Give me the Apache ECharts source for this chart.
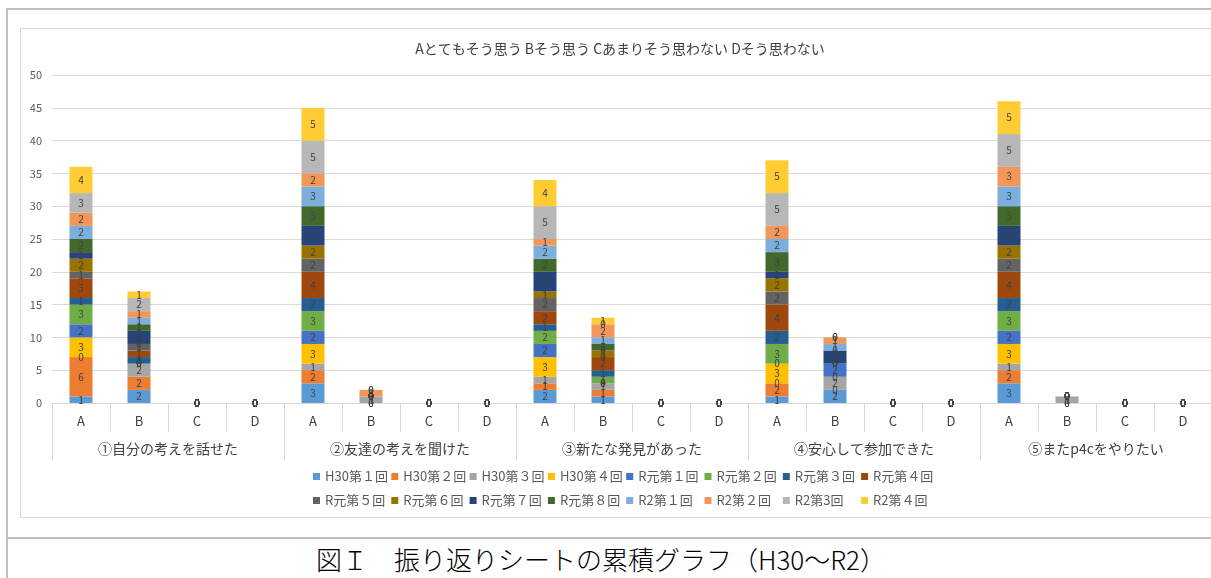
<!DOCTYPE html>
<html>
<head>
<meta charset="utf-8">
<script src="https://cdn.jsdelivr.net/npm/echarts@6/dist/echarts.min.js"></script>
<style>
html, body { margin: 0; padding: 0; width: 1211px; height: 578px; overflow: hidden; background: #fff; }
#frame { position: absolute; left: 6px; top: 8px; width: 1300px; height: 700px; border-left: 2px solid #bfbfbf; border-top: 2px solid #bfbfbf; }
#rule { position: absolute; left: 6px; top: 537px; width: 1300px; border-top: 2px solid #bfbfbf; }
#box { position: absolute; left: 20px; top: 28px; width: 1300px; height: 488px; border: 1px solid #d9d9d9; }
#chart { position: absolute; left: 20px; top: 28px; width: 1200px; height: 489px; }
#caption { position: absolute; left: 0; width: 1202px; top: 540px; text-align: center; font-family: "Noto Sans CJK JP"; font-size: 26px; font-weight: 300; color: #000; }
</style>
</head>
<body>
<div id="frame"></div>
<div id="rule"></div>
<div id="box"></div>
<div id="chart"></div>
<div id="caption">図Ｉ　振り返りシートの累積グラフ（H30～R2）</div>
<script>
var answers = ['A', 'B', 'C', 'D'];
var groups = ['①自分の考えを話せた', '②友達の考えを聞けた', '③新たな発見があった', '④安心して参加できた', '⑤またp4cをやりたい'];
var names = ['H30第１回', 'H30第２回', 'H30第３回', 'H30第４回', 'R元第１回', 'R元第２回', 'R元第３回', 'R元第４回',
	'R元第５回', 'R元第６回', 'R元第７回', 'R元第８回', 'R2第１回', 'R2第２回', 'R2第3回', 'R2第４回'];
var colors = ['#5b9bd5', '#ed7d31', '#a5a5a5', '#ffc000', '#4472c4', '#70ad47', '#255e91', '#9e480e',
	'#636363', '#997300', '#264478', '#43682b', '#7cafdd', '#f1975a', '#b7b7b7', '#ffcd33'];
var yTicks = { min: 0, max: 50, interval: 5 };

// values per series, 20 categories (5 groups x A,B,C,D)
var h30_1 = [1, 2, 0, 0, 3, 0, 0, 0, 2, 1, 0, 0, 1, 2, 0, 0, 3, 0, 0, 0];
var h30_2 = [6, 2, 0, 0, 2, 0, 0, 0, 1, 1, 0, 0, 2, 0, 0, 0, 2, 0, 0, 0];
var h30_3 = [0, 2, 0, 0, 1, 1, 0, 0, 1, 1, 0, 0, 0, 2, 0, 0, 1, 1, 0, 0];
var h30_4 = [3, 0, 0, 0, 3, 0, 0, 0, 3, 0, 0, 0, 3, 0, 0, 0, 3, 0, 0, 0];
var r1_1 = [2, 0, 0, 0, 2, 0, 0, 0, 2, 0, 0, 0, 0, 2, 0, 0, 2, 0, 0, 0];
var r1_2 = [3, 0, 0, 0, 3, 0, 0, 0, 2, 1, 0, 0, 3, 0, 0, 0, 3, 0, 0, 0];
var r1_3 = [1, 1, 0, 0, 2, 0, 0, 0, 1, 1, 0, 0, 2, 0, 0, 0, 2, 0, 0, 0];
var r1_4 = [3, 1, 0, 0, 4, 0, 0, 0, 2, 2, 0, 0, 4, 0, 0, 0, 4, 0, 0, 0];
var r1_5 = [1, 1, 0, 0, 2, 0, 0, 0, 2, 0, 0, 0, 2, 0, 0, 0, 2, 0, 0, 0];
var r1_6 = [2, 0, 0, 0, 2, 0, 0, 0, 1, 1, 0, 0, 2, 0, 0, 0, 2, 0, 0, 0];
var r1_7 = [1, 2, 0, 0, 3, 0, 0, 0, 3, 0, 0, 0, 1, 2, 0, 0, 3, 0, 0, 0];
var r1_8 = [2, 1, 0, 0, 3, 0, 0, 0, 2, 1, 0, 0, 3, 0, 0, 0, 3, 0, 0, 0];
var r2_1 = [2, 1, 0, 0, 3, 0, 0, 0, 2, 1, 0, 0, 2, 1, 0, 0, 3, 0, 0, 0];
var r2_2 = [2, 1, 0, 0, 2, 1, 0, 0, 1, 2, 0, 0, 2, 1, 0, 0, 3, 0, 0, 0];
var r2_3 = [3, 2, 0, 0, 5, 0, 0, 0, 5, 0, 0, 0, 5, 0, 0, 0, 5, 0, 0, 0];
var r2_4 = [4, 1, 0, 0, 5, 0, 0, 0, 4, 1, 0, 0, 5, 0, 0, 0, 5, 0, 0, 0];

var allValues = [h30_1, h30_2, h30_3, h30_4, r1_1, r1_2, r1_3, r1_4, r1_5, r1_6, r1_7, r1_8, r2_1, r2_2, r2_3, r2_4];

var cats = [];
for (var g = 0; g < groups.length; g++) {
	for (var a = 0; a < answers.length; a++) {
		cats.push(answers[a]);
	}
}

var font = '"Noto Sans CJK JP", "Noto Sans", sans-serif';

var series = [];
for (var i = 0; i < names.length; i++) {
	series.push({
		name: names[i],
		type: 'bar',
		stack: 'total',
		barWidth: 23,
		xAxisIndex: 0,
		itemStyle: { color: colors[i] },
		label: {
			show: true,
			position: 'inside',
			color: '#404040',
			fontSize: 10,
			fontFamily: font,
			formatter: '{c}'
		},
		data: allValues[i]
	});
}

// Excel lays legend entries on a grid: one small vertical legend per column
var legends = [];
for (var c = 0; c < 8; c++) {
	legends.push({
		data: [names[c], names[c + 8]],
		orient: 'vertical',
		left: 293 + c * 78.3,
		top: 442,
		padding: 0,
		icon: 'rect',
		itemWidth: 7,
		itemHeight: 7,
		itemGap: 11,
		textStyle: { color: '#595959', fontSize: 13, fontFamily: font }
	});
}

var option = {
	animation: false,
	textStyle: { fontFamily: font },
	title: {
		text: 'Aとてもそう思う Bそう思う Cあまりそう思わない Dそう思わない',
		left: 'center',
		top: 9,
		textStyle: { fontSize: 14, fontWeight: 'normal', color: '#404040', fontFamily: font }
	},
	legend: legends,
	grid: { left: 32, right: 8, top: 47, height: 328 },
	xAxis: [{
		type: 'category',
		data: cats,
		position: 'bottom',
		axisLine: { lineStyle: { color: '#d9d9d9' } },
		axisTick: { show: true, length: 29, interval: 0, lineStyle: { color: '#d9d9d9' } },
		axisLabel: { color: '#404040', fontSize: 13, margin: 12, interval: 0, fontFamily: font }
	}, {
		type: 'category',
		data: groups,
		position: 'bottom',
		offset: 29,
		axisLine: { show: false },
		axisTick: { show: true, length: 28, interval: 0, lineStyle: { color: '#d9d9d9' } },
		axisLabel: { color: '#404040', fontSize: 14, margin: 10, interval: 0, fontFamily: font }
	}],
	yAxis: {
		type: 'value',
		min: yTicks.min,
		max: yTicks.max,
		interval: yTicks.interval,
		axisLine: { show: false },
		axisTick: { show: false },
		axisLabel: { color: '#595959', fontSize: 11, margin: 10 },
		splitLine: { lineStyle: { color: '#d9d9d9' } }
	},
	series: series
};

echarts.init(document.getElementById('chart')).setOption(option);
</script>
</body>
</html>
